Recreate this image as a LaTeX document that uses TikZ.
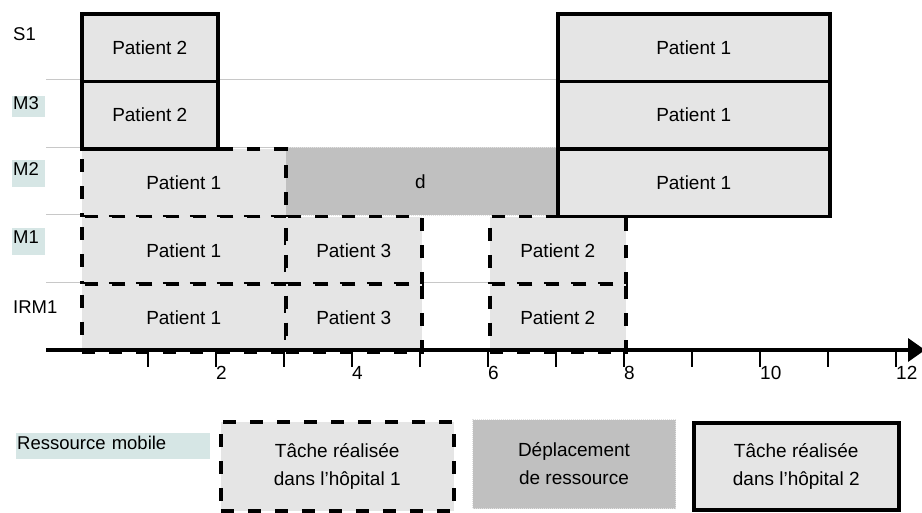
\documentclass[tikz,border=0pt]{standalone}
\usepackage{fontspec}
\setmainfont{Liberation Sans}
\definecolor{boxfill}{RGB}{229,229,229}
\definecolor{movefill}{RGB}{192,192,192}
\definecolor{dotgray}{RGB}{225,225,225}
\definecolor{gridgray}{RGB}{200,200,200}
\definecolor{tagfill}{RGB}{214,230,229}
\begin{document}
\begin{tikzpicture}[x=1pt,y=-1pt,
  base/.style={rectangle, inner sep=0pt, anchor=north west, font=\fontsize{19}{28}\selectfont, align=center, minimum height=67.6pt},
  hosp1/.style={base, fill=boxfill, draw=black, line width=3.5pt, dash pattern=on 13pt off 14pt},
  hosp2/.style={base, fill=boxfill, draw=black, line width=3.5pt},
  move/.style={base, fill=movefill, draw=dotgray, line width=1pt, densely dotted},
  tag/.style={rectangle, anchor=north west, inner xsep=1pt, inner ysep=0pt, font=\fontsize{18.5}{22}\selectfont, align=left},
  gridline/.style={draw=gridgray, line width=1.3pt},
  tick/.style={line width=2pt},
  ticklab/.style={anchor=north west, inner sep=0pt, font=\fontsize{19}{22}\selectfont}
]
\useasboundingbox (0,0) rectangle (922,512);

% row separators
\coordinate (g1a) at (46,79.6);  \coordinate (g1b) at (556,79.6);
\coordinate (g2a) at (46,147.2); \coordinate (g2b) at (556,147.2);
\coordinate (g3a) at (46,214.8); \coordinate (g3b) at (556,214.8);
\coordinate (g4a) at (46,282.4); \coordinate (g4b) at (556,282.4);
\draw[gridline] (g1a) -- (g1b);
\draw[gridline] (g2a) -- (g2b);
\draw[gridline] (g3a) -- (g3b);
\draw[gridline] (g4a) -- (g4b);

% row labels
\node[tag, text height=13pt, text depth=0pt] (lS1) at (12,27) {S1};
\node[tag, fill=tagfill, text width=31pt, text height=13pt, text depth=8pt] (lM3) at (12,96) {M3};
\node[tag, fill=tagfill, text width=31pt, text height=15pt, text depth=12pt] (lM2) at (12,160) {M2};
\node[tag, fill=tagfill, text width=31pt, text height=15pt, text depth=12pt] (lM1) at (12,228) {M1};
\node[tag, text height=13pt, text depth=0pt] (lIRM1) at (12,300) {IRM1};

% resource move
\node[move, minimum width=272pt] (m2d) at (284,147.2) {d};

% tasks in hospital 1
\node[hosp1, minimum width=204pt] (m2a) at (80,147.2) {Patient 1};
\node[hosp1, minimum width=204pt] (m1a) at (80,214.8) {Patient 1};
\node[hosp1, minimum width=136pt] (m1b) at (284,214.8) {Patient 3};
\node[hosp1, minimum width=136pt] (m1c) at (488,214.8) {Patient 2};
\node[hosp1, minimum width=204pt] (i1a) at (80,282.4) {Patient 1};
\node[hosp1, minimum width=136pt] (i1b) at (284,282.4) {Patient 3};
\node[hosp1, minimum width=136pt] (i1c) at (488,282.4) {Patient 2};

% tasks in hospital 2
\node[hosp2, minimum width=136pt] (s1a) at (80,12) {Patient 2};
\node[hosp2, minimum width=272pt] (s1b) at (556,12) {Patient 1};
\node[hosp2, minimum width=136pt] (m3a) at (80,79.6) {Patient 2};
\node[hosp2, minimum width=272pt] (m3b) at (556,79.6) {Patient 1};
\node[hosp2, minimum width=272pt] (m2b) at (556,147.2) {Patient 1};

% time axis
\coordinate (ax0) at (46,350);
\coordinate (ax1) at (910,350);
\draw[line width=3.5pt] (ax0) -- (ax1);
\fill (908,338) -- (925,350) -- (908,362) -- cycle;
\foreach \i in {1,...,12} {
  \draw[tick] ({80+68*\i},350) -- ({80+68*\i},367);
}
\foreach \i in {2,4,...,12} {
  \node[ticklab] (t\i) at ({80+68*\i},366) {\i};
}

% legend
\node[tag, fill=tagfill, text width=192pt, text height=16pt, text depth=10pt] (lres) at (16,433) {Ressource mobile};
\node[hosp1, minimum width=233pt, minimum height=89pt] (leg1) at (219,420) {Tâche réalisée\\dans l’hôpital 1};
\node[move, minimum width=203pt, minimum height=89pt] (leg2) at (472,419) {Déplacement\\de ressource};
\node[hosp2, minimum width=205pt, minimum height=87pt] (leg3) at (692,421) {Tâche réalisée\\dans l’hôpital 2};
\end{tikzpicture}
\end{document}
